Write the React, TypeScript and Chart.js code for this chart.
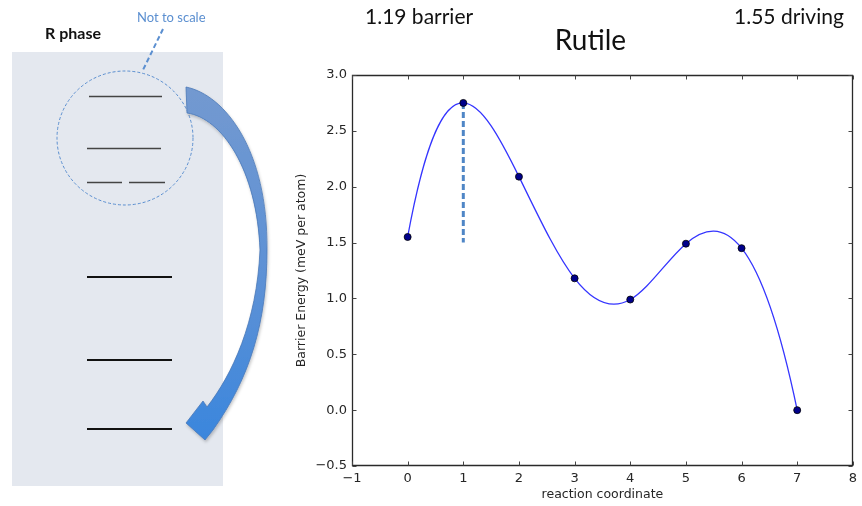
import { useEffect, useRef } from "react";
import { Chart, registerables } from "chart.js";

Chart.register(...registerables);

// Reaction path: coordinate index and barrier energy (meV per atom)
const coordinates = [0, 1, 2, 3, 4, 5, 6, 7];
const barrierEnergy = [1.55, 2.75, 2.09, 1.18, 0.99, 1.49, 1.45, 0.0];

// Dashed marker under the saddle point
const barrierMarkerX = [1, 1];
const barrierMarkerY = [2.75, 1.5];

// Axis ticks
const xTicks = [-1, 0, 1, 2, 3, 4, 5, 6, 7, 8];
const yTicks = [-0.5, 0, 0.5, 1, 1.5, 2, 2.5, 3];

// Texts
const chartTitle = "Rutile";
const barrierNote = "1.19 barrier";
const drivingNote = "1.55 driving";
const xTitle = "reaction coordinate";
const yTitle = "Barrier Energy (meV per atom)";
const phaseLabel = "R phase";
const scaleNote = "Not to scale";

const minus = (s: string) => s.replace("-", "\u2212");

// Second derivatives of a not-a-knot cubic spline through (xs, ys)
function splineSecondDerivatives(xs: number[], ys: number[]): number[] {
  const n = xs.length;
  const h = xs.slice(0, -1).map((x, i) => xs[i + 1] - x);
  const A: number[][] = Array.from({ length: n }, () => new Array(n).fill(0));
  const b: number[] = new Array(n).fill(0);
  A[0][0] = h[1];
  A[0][1] = -(h[0] + h[1]);
  A[0][2] = h[0];
  for (let i = 1; i < n - 1; i++) {
    A[i][i - 1] = h[i - 1];
    A[i][i] = 2 * (h[i - 1] + h[i]);
    A[i][i + 1] = h[i];
    b[i] = 6 * ((ys[i + 1] - ys[i]) / h[i] - (ys[i] - ys[i - 1]) / h[i - 1]);
  }
  A[n - 1][n - 3] = h[n - 2];
  A[n - 1][n - 2] = -(h[n - 3] + h[n - 2]);
  A[n - 1][n - 1] = h[n - 3];
  // Gaussian elimination with partial pivoting
  for (let c = 0; c < n; c++) {
    let p = c;
    for (let r = c + 1; r < n; r++) if (Math.abs(A[r][c]) > Math.abs(A[p][c])) p = r;
    [A[c], A[p]] = [A[p], A[c]];
    [b[c], b[p]] = [b[p], b[c]];
    for (let r = c + 1; r < n; r++) {
      const f = A[r][c] / A[c][c];
      if (!f) continue;
      for (let k = c; k < n; k++) A[r][k] -= f * A[c][k];
      b[r] -= f * b[c];
    }
  }
  const M = new Array(n).fill(0);
  for (let r = n - 1; r >= 0; r--) {
    let s = b[r];
    for (let k = r + 1; k < n; k++) s -= A[r][k] * M[k];
    M[r] = s / A[r][r];
  }
  return M;
}

// Replaces the line's Bezier handles with those of the cubic spline
const splinePlugin = {
  id: "cubicSpline",
  beforeDatasetDraw(chart: any, args: any) {
    if (args.index !== 0) return;
    const line = args.meta.dataset;
    const pts = args.meta.data;
    if (!line || !pts || pts.length < 4) return;
    if (typeof line.updateControlPoints === "function") {
      line.updateControlPoints(chart.chartArea, "x");
    }
    const xs = coordinates;
    const ys = barrierEnergy;
    const n = xs.length;
    const M = splineSecondDerivatives(xs, ys);
    const slopeAt = (i: number) => {
      if (i < n - 1) {
        const h = xs[i + 1] - xs[i];
        return (ys[i + 1] - ys[i]) / h - (h * (2 * M[i] + M[i + 1])) / 6;
      }
      const h = xs[n - 1] - xs[n - 2];
      return (ys[n - 1] - ys[n - 2]) / h + (h * (M[n - 2] + 2 * M[n - 1])) / 6;
    };
    const X = chart.scales.x;
    const Y = chart.scales.y;
    for (let i = 0; i < n; i++) {
      const m = slopeAt(i);
      const hPrev = i > 0 ? xs[i] - xs[i - 1] : 0;
      const hNext = i < n - 1 ? xs[i + 1] - xs[i] : 0;
      const p = pts[i];
      p.cp1x = X.getPixelForValue(xs[i] - hPrev / 3);
      p.cp1y = Y.getPixelForValue(ys[i] - (m * hPrev) / 3);
      p.cp2x = X.getPixelForValue(xs[i] + hNext / 3);
      p.cp2y = Y.getPixelForValue(ys[i] + (m * hNext) / 3);
    }
    line._pointsUpdated = true;
    line._path = undefined;
  },
};

// Box frame with inward ticks on all four sides, plus the header texts
const framePlugin = {
  id: "frameAndHeader",
  afterDatasetsDraw(chart: any) {
    const { ctx, chartArea, scales } = chart;
    const { left, right, top, bottom } = chartArea;
    ctx.save();
    ctx.strokeStyle = "#2a2a2a";
    ctx.lineWidth = 1.3;
    ctx.beginPath();
    const L = Math.round(left) + 0.5;
    const R = Math.round(right) - 0.5;
    const T = Math.round(top) + 0.5;
    const B = Math.round(bottom) - 0.5;
    ctx.rect(L, T, R - L, B - T);
    ctx.stroke();
    ctx.lineWidth = 1;
    ctx.strokeStyle = "#444";
    ctx.beginPath();
    const len = 4;
    xTicks.forEach((v) => {
      const px = Math.round(scales.x.getPixelForValue(v)) + 0.5;
      ctx.moveTo(px, B);
      ctx.lineTo(px, B - len);
      ctx.moveTo(px, T);
      ctx.lineTo(px, T + len);
    });
    yTicks.forEach((v) => {
      const py = Math.round(scales.y.getPixelForValue(v)) + 0.5;
      ctx.moveTo(L, py);
      ctx.lineTo(L + len, py);
      ctx.moveTo(R, py);
      ctx.lineTo(R - len, py);
    });
    ctx.stroke();
    ctx.restore();
  },
  afterDraw(chart: any) {
    const { ctx, chartArea } = chart;
    ctx.save();
    ctx.fillStyle = "#111";
    ctx.textBaseline = "middle";
    ctx.font = "21px Lato";
    ctx.textAlign = "left";
    ctx.fillText(barrierNote, chartArea.left + 13, 17);
    ctx.textAlign = "right";
    ctx.fillText(drivingNote, chartArea.right - 9, 17);
    ctx.font = "28px Lato";
    ctx.textAlign = "center";
    ctx.fillText(chartTitle, (chartArea.left + chartArea.right) / 2 - 12, 41);
    ctx.restore();
  },
};

function PhaseSketch() {
  const note = "#5b8fd0";
  return (
    <svg
      width={290}
      height={506}
      style={{ position: "absolute", left: 0, top: 0 }}
    >
      <defs>
        <linearGradient id="arrowFill" x1="0" y1="0" x2="0" y2="1">
          <stop offset="0" stopColor="#7399d0" />
          <stop offset="0.6" stopColor="#5a90d6" />
          <stop offset="1" stopColor="#3a86dd" />
        </linearGradient>
        <filter id="softShadow" x="-20%" y="-20%" width="140%" height="140%">
          <feDropShadow dx="1" dy="2" stdDeviation="1.5" floodColor="#000" floodOpacity="0.22" />
        </filter>
      </defs>
      <rect x={12} y={52} width={211} height={434} fill="#e4e8ef" />
      <text x={45} y={39} fontFamily="Lato" fontWeight={700} fontSize={16} fill="#111">
        {phaseLabel}
      </text>
      <text x={137} y={22} fontFamily="Lato" fontSize={13} fill={note}>
        {scaleNote}
      </text>
      <line x1={163} y1={29} x2={142} y2={72} stroke={note} strokeWidth={2} strokeDasharray="5 3" />
      <ellipse cx={125} cy={138} rx={68} ry={67} fill="none" stroke={note} strokeWidth={1} strokeDasharray="3 2" />
      <g stroke="#444" strokeWidth={1.4}>
        <line x1={89} y1={96.5} x2={162} y2={96.5} />
        <line x1={87} y1={148.5} x2={161} y2={148.5} />
        <line x1={87} y1={182.5} x2={122} y2={182.5} />
        <line x1={129} y1={182.5} x2={165} y2={182.5} />
      </g>
      <g stroke="#111" strokeWidth={2}>
        <line x1={87} y1={277} x2={172} y2={277} />
        <line x1={87} y1={360} x2={172} y2={360} />
        <line x1={87} y1={429} x2={172} y2={429} />
      </g>
      <path
        d="M 186 87 C 225 95, 268 150, 267 250 C 267 322, 250 378, 213 430 L 205 440 L 186 423 L 203 401 L 207 407 C 232 375, 257 322, 260 250 C 257 170, 222 118, 187 113 Z"
        fill="url(#arrowFill)"
        stroke="#4a78b8"
        strokeWidth={0.8}
        filter="url(#softShadow)"
      />
    </svg>
  );
}

export default function App() {
  const canvasRef = useRef<HTMLCanvasElement | null>(null);

  useEffect(() => {
    if (!canvasRef.current) return;
    Chart.defaults.font.family = "'DejaVu Sans'";
    Chart.defaults.color = "#262626";

    const chart = new Chart(canvasRef.current, {
      type: "scatter",
      data: {
        datasets: [
          {
            label: "path",
            data: coordinates.map((x, i) => ({ x, y: barrierEnergy[i] })),
            showLine: true,
            tension: 0.4,
            borderColor: "#3535ff",
            borderWidth: 1.3,
            pointRadius: 3.5,
            pointBackgroundColor: "#00008b",
            pointBorderColor: "#000",
            pointBorderWidth: 0.8,
            order: 1,
          },
          {
            label: "barrier",
            data: barrierMarkerX.map((x, i) => ({ x, y: barrierMarkerY[i] })),
            showLine: true,
            borderColor: "#4f86c6",
            borderWidth: 3,
            borderDash: [6, 3],
            pointRadius: 0,
            order: 2,
          },
        ],
      },
      options: {
        animation: false,
        responsive: false,
        events: [],
        layout: { padding: { left: 290, right: 8, top: 75, bottom: 0 } },
        plugins: {
          legend: { display: false },
          tooltip: { enabled: false },
          title: { display: false },
        },
        scales: {
          x: {
            type: "linear",
            min: xTicks[0],
            max: xTicks[xTicks.length - 1],
            afterBuildTicks: (s: any) => {
              s.ticks = xTicks.map((value) => ({ value }));
            },
            afterFit: (s: any) => {
              s.height = 40;
            },
            grid: { display: false, drawTicks: false },
            border: { display: false },
            ticks: {
              padding: 5,
              font: { size: 13 },
              color: "#262626",
              callback: (v: any) => minus(String(v)),
            },
            title: {
              display: true,
              text: xTitle,
              font: { size: 12.5 },
              color: "#262626",
              padding: { top: 0, bottom: 4 },
            },
          },
          y: {
            type: "linear",
            min: yTicks[0],
            max: yTicks[yTicks.length - 1],
            afterBuildTicks: (s: any) => {
              s.ticks = yTicks.map((value) => ({ value }));
            },
            afterFit: (s: any) => {
              s.width = 62;
            },
            grid: { display: false, drawTicks: false },
            border: { display: false },
            ticks: {
              padding: 5,
              font: { size: 13 },
              color: "#262626",
              callback: (v: any) => minus(Number(v).toFixed(1)),
            },
            title: {
              display: true,
              text: yTitle,
              font: { size: 12.5 },
              color: "#262626",
              padding: { top: 4, bottom: 0 },
            },
          },
        },
      },
      plugins: [splinePlugin, framePlugin],
    });
    return () => chart.destroy();
  }, []);

  return (
    <div style={{ position: "absolute", left: 0, top: 0, width: 862, height: 506, background: "#fff" }}>
      <canvas ref={canvasRef} width={862} height={506} style={{ position: "absolute", left: 0, top: 0 }} />
      <PhaseSketch />
    </div>
  );
}
